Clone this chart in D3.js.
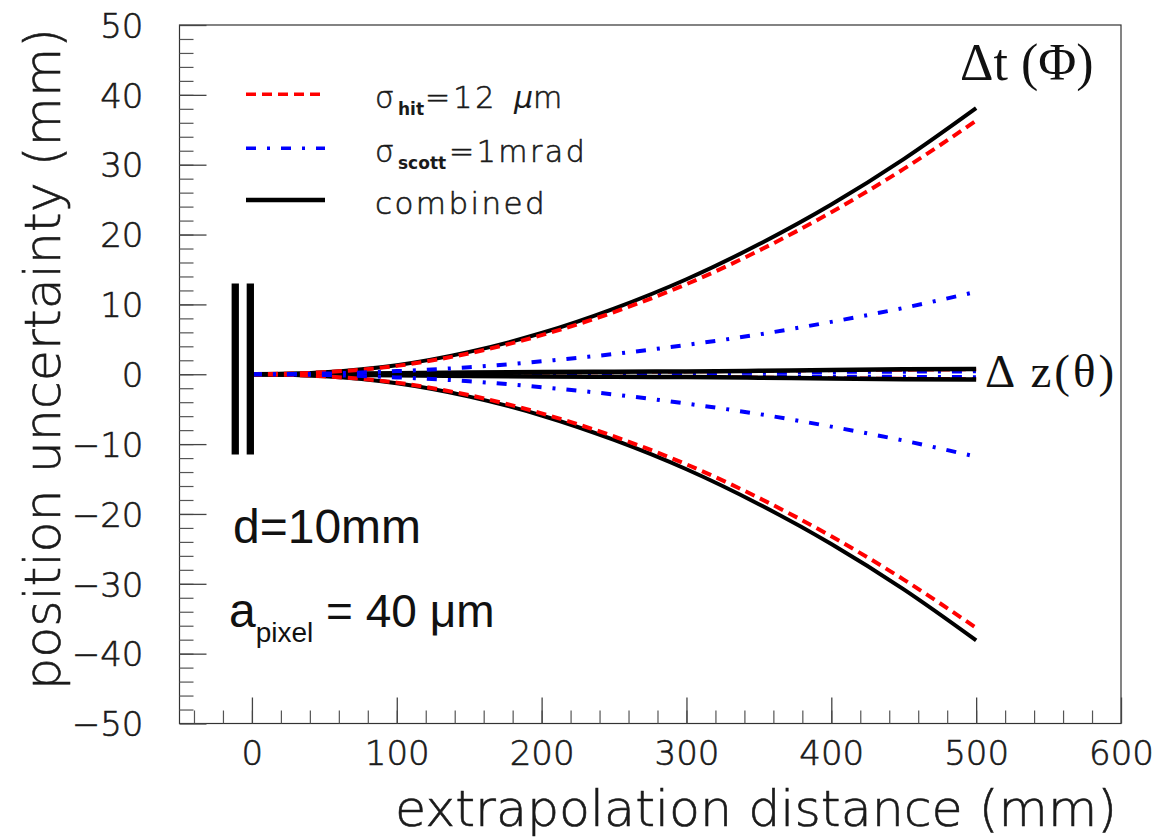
<!DOCTYPE html>
<html>
<head>
<meta charset="utf-8">
<script src="https://cdn.jsdelivr.net/npm/d3@7"></script>
<style>
  html, body { margin: 0; padding: 0; background: #fff; }
  svg { display: block; }
</style>
</head>
<body>
<div id="chart"></div>
<script>
// ---------------- data ----------------
const dist = [0, 50, 100, 150, 200, 250, 300, 350, 400, 450, 500];
// transverse (Δt, Φ) uncertainty, mm
const phiCombined = [0, 0.3, 1.3, 3.2, 5.9, 9.4, 13.6, 18.6, 24.3, 30.8, 38.1];
const phiHit      = [0, 0.3, 1.2, 3.0, 5.6, 8.9, 12.9, 17.7, 23.2, 29.4, 36.3];
const phiScatt    = [0, 0.1, 0.45, 1.0, 1.85, 2.9, 4.2, 5.7, 7.5, 9.5, 11.8];
// longitudinal (Δz, θ) uncertainty, mm
const zCombined = [0, 0.08, 0.16, 0.24, 0.31, 0.36, 0.4, 0.5, 0.62, 0.7, 0.76];
const zHit      = [0, 0.07, 0.14, 0.2, 0.26, 0.3, 0.34, 0.42, 0.52, 0.58, 0.64];
const zScatt    = [0, 0.02, 0.04, 0.07, 0.1, 0.13, 0.17, 0.21, 0.26, 0.3, 0.35];
// detector layers
const layerX = [-11.5, -1.1];
const layerYRange = [-11.5, 13];
// axes
const xTickLabels = [0, 100, 200, 300, 400, 500, 600];
const yTickLabels = [-50, -40, -30, -20, -10, 0, 10, 20, 30, 40, 50];
const xDomain = [-50, 600];
const yDomain = [-50, 50];
const xTitle = "extrapolation distance (mm)";
const yTitle = "position uncertainty (mm)";

// ---------------- layout ----------------
const W = 1160, H = 840;
const L = 179.5, R = 1121, T = 25, B = 723.5;
const svg = d3.select("#chart").append("svg").attr("width", W).attr("height", H);

const x = d3.scaleLinear().domain(xDomain).range([L, R]);
const y = d3.scaleLinear().domain(yDomain).range([B, T]);

const sans = "'DejaVu Sans', sans-serif";
const serif = "'Liberation Serif', 'DejaVu Serif', serif";
const arial = "'Liberation Sans', Arial, sans-serif";
const INK = "#1a1a1a";
const thin = sel => sel.attr("font-family", sans).attr("font-weight", 200)
  .attr("fill", INK).attr("stroke", INK).attr("stroke-width", 0.6);

// frame
svg.append("rect").attr("x", L).attr("y", T).attr("width", R - L).attr("height", B - T)
  .attr("fill", "none").attr("stroke", "#333").attr("stroke-width", 1.2);

// minor ticks
const yMinor = svg.append("g").attr("transform", `translate(${L},0)`)
  .call(d3.axisLeft(y).tickValues(d3.range(-48, 50, 2)).tickSize(-14).tickFormat(""));
const xMinor = svg.append("g").attr("transform", `translate(0,${B})`)
  .call(d3.axisBottom(x).tickValues(d3.range(-40, 600, 20)).tickSize(-13).tickFormat(""));
[yMinor, xMinor].forEach(g => { g.select(".domain").remove(); g.selectAll("line").attr("stroke", "#555").attr("stroke-width", 1.2); });

// major ticks + labels
const yAx = svg.append("g").attr("transform", `translate(${L},0)`)
  .call(d3.axisLeft(y).tickValues(yTickLabels).tickSize(-27).tickPadding(36));
const xAx = svg.append("g").attr("transform", `translate(0,${B})`)
  .call(d3.axisBottom(x).tickValues(xTickLabels).tickSize(-26).tickPadding(17));
[yAx, xAx].forEach(g => {
  g.select(".domain").remove();
  g.selectAll("line").attr("stroke", "#444").attr("stroke-width", 1.3);
  g.selectAll("text").call(thin).attr("font-size", 34);
});
yAx.selectAll("text").attr("dy", "0.36em");

// axis titles
svg.append("text").attr("x", R - 4).attr("y", 826).attr("text-anchor", "end")
  .call(thin).attr("font-size", 50)
  .attr("textLength", 722).attr("lengthAdjust", "spacingAndGlyphs").text(xTitle);
svg.append("text").attr("transform", `translate(60,${T + 3}) rotate(-90)`).attr("text-anchor", "end")
  .call(thin).attr("font-size", 50)
  .attr("textLength", 662).attr("lengthAdjust", "spacingAndGlyphs").text(yTitle);

// ---------------- curves ----------------
const line = d3.line().x(d => x(d[0])).y(d => y(d[1])).curve(d3.curveMonotoneX);
const pts = (arr, s) => dist.map((d, i) => [d, s * arr[i]]);
const RED = "#ff0000", BLUE = "#0000ff";
const redDash = "10,6", blueDash = "10,11,3,11";

const plot = svg.append("g");
function draw(arr, color, width, dash) {
  [1, -1].forEach(s => {
    plot.append("path").attr("d", line(pts(arr, s))).attr("fill", "none")
      .attr("stroke", color).attr("stroke-width", width)
      .attr("stroke-dasharray", dash || null);
  });
}
// Δz band
draw(zHit, RED, 3, redDash);
draw(zScatt, BLUE, 3, blueDash);
draw(zCombined, "#000", 4.5);
// Δt band
draw(phiCombined, "#000", 4);
draw(phiHit, RED, 4, redDash);
draw(phiScatt, BLUE, 4, blueDash);

// detector layers
layerX.forEach(lx => {
  svg.append("line").attr("x1", x(lx)).attr("x2", x(lx))
    .attr("y1", y(layerYRange[1])).attr("y2", y(layerYRange[0]))
    .attr("stroke", "#000").attr("stroke-width", 7.3);
});

// ---------------- legend ----------------
const legendSeries = [
  { color: RED, dash: redDash, width: 3.5, y: 94.3 },
  { color: BLUE, dash: blueDash, width: 3.5, y: 148.3 },
  { color: "#000", dash: null, width: 4.5, y: 200 }
];
legendSeries.forEach(s => {
  svg.append("line").attr("x1", 246).attr("x2", 325).attr("y1", s.y).attr("y2", s.y)
    .attr("stroke", s.color).attr("stroke-width", s.width).attr("stroke-dasharray", s.dash);
});
const lg = svg.append("g").call(thin);
// row 1
lg.append("text").attr("x", 375).attr("y", 108).attr("font-size", 30).text("σ");
lg.append("text").attr("x", 398).attr("y", 115).attr("font-size", 17).attr("font-weight", "bold").attr("stroke-width", 0).text("hit");
const r1 = lg.append("text").attr("y", 108).attr("font-size", 30);
r1.append("tspan").attr("x", 425).attr("letter-spacing", 3).text("=12");
r1.append("tspan").attr("x", 514).attr("font-style", "italic").attr("stroke-width", 0).text("μ");
r1.append("tspan").text("m");
// row 2
lg.append("text").attr("x", 375).attr("y", 162).attr("font-size", 30).text("σ");
lg.append("text").attr("x", 398).attr("y", 168.5).attr("font-size", 17).attr("font-weight", "bold").attr("stroke-width", 0).text("scott");
lg.append("text").attr("x", 449).attr("y", 162).attr("font-size", 30).attr("letter-spacing", 2.5).text("=1mrad");
// row 3
lg.append("text").attr("x", 375).attr("y", 214).attr("font-size", 31).attr("letter-spacing", 2.4).text("combined");

// ---------------- annotations ----------------
svg.append("text").attr("x", 960).attr("y", 80).attr("font-family", serif).attr("font-size", 52)
  .attr("fill", "#111").text("Δt (Φ)");
svg.append("text").attr("x", 985).attr("y", 387).attr("font-family", serif).attr("font-size", 47)
  .attr("fill", "#111").attr("letter-spacing", 3).text("Δ z(θ)");

svg.append("text").attr("x", 233).attr("y", 543).attr("font-family", arial).attr("font-size", 48)
  .attr("fill", "#111").text("d=10mm");
const ap = svg.append("text").attr("x", 229).attr("y", 627).attr("font-family", arial).attr("fill", "#111");
ap.append("tspan").attr("font-size", 48).text("a");
ap.append("tspan").attr("font-size", 28).attr("dy", 15).text("pixel");
ap.append("tspan").attr("font-size", 46).attr("dy", -15).text(" = 40 μm");
</script>
</body>
</html>
